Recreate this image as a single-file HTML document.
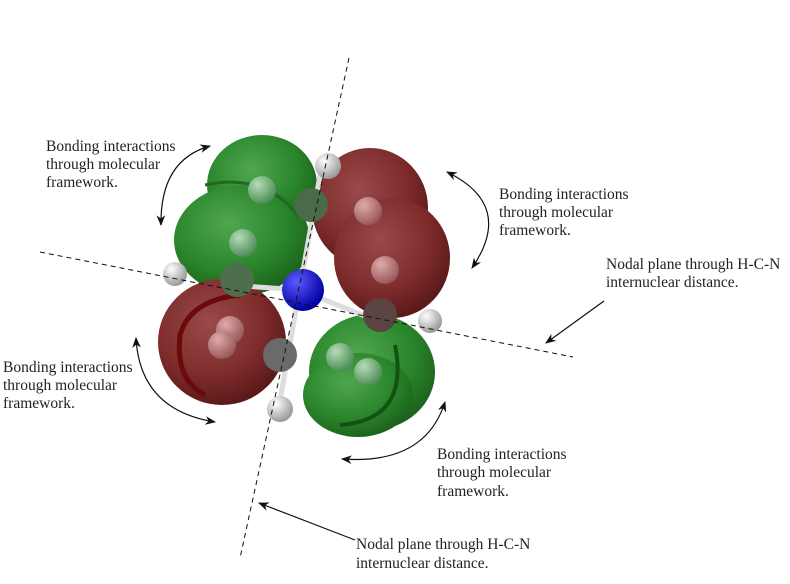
<!DOCTYPE html>
<html><head><meta charset="utf-8"><style>
html,body{margin:0;padding:0;background:#fff;}
svg{display:block;}
text{font-family:"Liberation Serif",serif;font-size:15.5px;fill:#222;}
</style></head><body>
<svg width="790" height="584" viewBox="0 0 790 584" xmlns="http://www.w3.org/2000/svg">
<defs>
<radialGradient id="g" cx="40%" cy="35%" r="70%"><stop offset="0" stop-color="#4fa64f"/><stop offset="0.6" stop-color="#2a862a"/><stop offset="1" stop-color="#1b5e1b"/></radialGradient>
<radialGradient id="r" cx="40%" cy="35%" r="70%"><stop offset="0" stop-color="#9a4a4a"/><stop offset="0.6" stop-color="#7e2c2c"/><stop offset="1" stop-color="#561616"/></radialGradient>
<radialGradient id="gb" cx="35%" cy="30%" r="70%"><stop offset="0" stop-color="#b6dcb6"/><stop offset="1" stop-color="#4f8f5a"/></radialGradient>
<radialGradient id="rb" cx="35%" cy="30%" r="70%"><stop offset="0" stop-color="#e0aaaa"/><stop offset="1" stop-color="#9a5a5a"/></radialGradient>
<radialGradient id="wb" cx="35%" cy="30%" r="70%"><stop offset="0" stop-color="#ffffff"/><stop offset="1" stop-color="#9a9a9a"/></radialGradient>
<radialGradient id="nb" cx="35%" cy="30%" r="70%"><stop offset="0" stop-color="#5a5aff"/><stop offset="1" stop-color="#0000a0"/></radialGradient>
<marker id="ah" viewBox="0 0 10 10" refX="9" refY="5" markerWidth="9" markerHeight="9" orient="auto-start-reverse"><path d="M0,1 L10,5 L0,9 L3,5 z" fill="#111"/></marker>
</defs>

<!-- lobes -->
<ellipse cx="262" cy="185" rx="55" ry="50" fill="url(#g)"/>
<ellipse cx="242" cy="240" rx="68" ry="55" fill="url(#g)"/>
<path d="M205,185 Q265,172 300,218" stroke="#1f6a1f" stroke-width="3" fill="none"/>
<ellipse cx="370" cy="208" rx="58" ry="60" fill="url(#r)"/>
<ellipse cx="392" cy="258" rx="58" ry="60" fill="url(#r)"/>
<ellipse cx="222" cy="342" rx="64" ry="63" fill="url(#r)"/>
<path d="M205,395 Q175,380 180,335 Q190,300 240,295" stroke="#6a0a0a" stroke-width="5" fill="none"/>
<ellipse cx="372" cy="372" rx="63" ry="58" fill="url(#g)"/>
<ellipse cx="358" cy="395" rx="55" ry="42" fill="url(#g)"/>
<path d="M395,345 Q410,420 340,425" stroke="#145214" stroke-width="4" fill="none"/>

<!-- bonds -->
<g stroke="#ddd" stroke-width="5">
<line x1="320" y1="175" x2="280" y2="400"/>
<line x1="230" y1="285" x2="300" y2="290"/>
<line x1="300" y1="290" x2="375" y2="320"/>
</g>
<!-- atoms -->
<circle cx="262" cy="190" r="14" fill="url(#gb)"/>
<circle cx="311" cy="205" r="17" fill="#4a6a4a"/>
<circle cx="368" cy="211" r="14" fill="url(#rb)"/>
<circle cx="243" cy="243" r="14" fill="url(#gb)"/>
<circle cx="237" cy="280" r="17" fill="#4e6e4e"/>
<circle cx="385" cy="270" r="14" fill="url(#rb)"/>
<circle cx="380" cy="315" r="17" fill="#5a4444"/>
<circle cx="230" cy="330" r="14" fill="url(#rb)"/>
<circle cx="222" cy="345" r="14" fill="url(#rb)"/>
<circle cx="280" cy="355" r="17" fill="#6a6a6a"/>
<circle cx="340" cy="357" r="14" fill="url(#gb)"/>
<circle cx="368" cy="372" r="14" fill="url(#gb)"/>
<circle cx="328" cy="166" r="13" fill="url(#wb)"/>
<circle cx="175" cy="274" r="12" fill="url(#wb)"/>
<circle cx="430" cy="321" r="12" fill="url(#wb)"/>
<circle cx="280" cy="409" r="13" fill="url(#wb)"/>
<circle cx="303" cy="290" r="21" fill="url(#nb)"/>

<!-- dashed planes -->
<g stroke="#111" stroke-width="1" stroke-dasharray="5,4">
<line x1="349" y1="58" x2="240" y2="558"/>
<line x1="40" y1="252" x2="573" y2="357"/>
</g>

<!-- arrows -->
<g stroke="#111" stroke-width="1.2" fill="none">
<line x1="604" y1="301" x2="546" y2="343" marker-end="url(#ah)"/>
<line x1="355" y1="540" x2="259" y2="503" marker-end="url(#ah)"/>
<path d="M210,146 Q160,160 161,225" marker-start="url(#ah)" marker-end="url(#ah)"/>
<path d="M447,172 Q515,205 472,268" marker-start="url(#ah)" marker-end="url(#ah)"/>
<path d="M136,338 Q140,410 215,422" marker-start="url(#ah)" marker-end="url(#ah)"/>
<path d="M445,402 Q425,465 342,459" marker-start="url(#ah)" marker-end="url(#ah)"/>
</g>

<!-- labels -->
<text x="46" y="151">Bonding interactions</text>
<text x="46" y="169">through molecular</text>
<text x="46" y="187">framework.</text>
<text x="499" y="199">Bonding interactions</text>
<text x="499" y="217">through molecular</text>
<text x="499" y="235">framework.</text>
<text x="606" y="269">Nodal plane through H-C-N</text>
<text x="606" y="287">internuclear distance.</text>
<text x="3" y="372">Bonding interactions</text>
<text x="3" y="390">through molecular</text>
<text x="3" y="408">framework.</text>
<text x="437" y="459">Bonding interactions</text>
<text x="437" y="477">through molecular</text>
<text x="437" y="496">framework.</text>
<text x="356" y="549">Nodal plane through H-C-N</text>
<text x="356" y="568">internuclear distance.</text>
</svg>
</body></html>
